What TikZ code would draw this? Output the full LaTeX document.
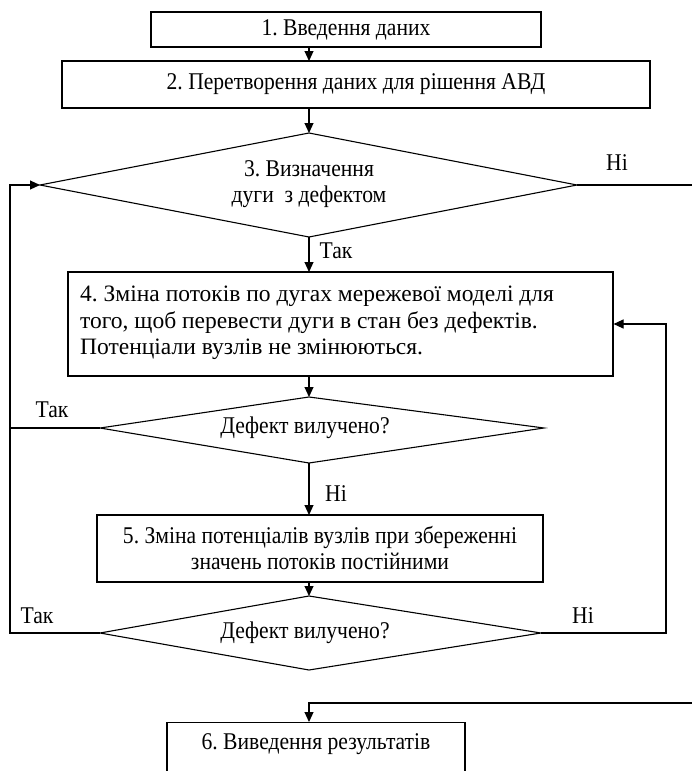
\documentclass[tikz,border=0pt]{standalone}
\usepackage{fontspec}
\setmainfont{Liberation Serif}[FakeStretch=0.9]
\newfontfamily\widefam{Liberation Serif}
\usetikzlibrary{arrows.meta}
\begin{document}
\frenchspacing
\begin{tikzpicture}[x=1pt,y=-1pt,
  every node/.style={font=\fontsize{24}{26}\selectfont},
  box/.style={draw,line width=1.1pt,inner sep=0pt},
  lbl/.style={inner sep=1pt},
  ln/.style={line width=1.1pt},
  arr/.style={line width=1.1pt,-{Triangle[length=10pt,width=9pt]}},
  dia/.style={draw,line width=1.1pt}]
\useasboundingbox (0,0) rectangle (692,771);
% boxes
\node[box,minimum width=390pt,minimum height=35pt] (b1) at (346,29.5) {1. Введення даних};
\node[box,minimum width=588pt,minimum height=47pt] (b2) at (356,84.5) {2. Перетворення даних для рішення АВД};
\node[box,minimum width=545pt,minimum height=104pt] (b4) at (340.5,324) {};
\node[anchor=west,align=left,inner sep=0pt,font=\widefam\fontsize{23.5}{26.5}\selectfont] (t4) at (80,323) {4. Зміна потоків по дугах мережевої моделі для\\того, щоб перевести дуги в стан без дефектів.\\Потенціали вузлів не змінюються.};
\node[box,minimum width=446pt,minimum height=67pt,align=center] (b5) at (320,548.5) {5. Зміна потенціалів вузлів при збереженні\\значень потоків постійними};
\node[box,minimum width=298pt,minimum height=70pt,anchor=north] (b6) at (316,722) {};
\node (t6) at (316,744) {6. Виведення результатів};
% diamond 3
\coordinate (d3t) at (309,133); \coordinate (d3r) at (577,185);
\coordinate (d3b) at (309,237); \coordinate (d3l) at (40,185);
\draw[dia] (d3t) -- (d3r) -- (d3b) -- (d3l) -- cycle;
\node[align=center] (d3) at (309,184) {3. Визначення\\дуги~~з дефектом};
% diamond 4
\coordinate (d4t) at (309,397); \coordinate (d4r) at (544,428);
\coordinate (d4b) at (309,463); \coordinate (d4l) at (100,428);
\draw[dia] (d4t) -- (d4r) -- (d4b) -- (d4l) -- cycle;
\node (d4) at (305,428) {Дефект вилучено?};
% diamond 5
\coordinate (d5t) at (309,596); \coordinate (d5r) at (541,633);
\coordinate (d5b) at (309,670); \coordinate (d5l) at (100,633);
\draw[dia] (d5t) -- (d5r) -- (d5b) -- (d5l) -- cycle;
\node (d5) at (305,633) {Дефект вилучено?};
% edge coordinates
\coordinate (e1) at (692,185);
\coordinate (e2) at (692,703);
\coordinate (L) at (10,633);
\coordinate (Lt) at (10,185);
\coordinate (R) at (666,633);
\coordinate (Rt) at (666,324);
\coordinate (k6) at (309,703);
% connectors
\draw[arr] (309,47) -- (309,61);
\draw[arr] (309,108) -- (d3t);
\draw[arr] (d3b) -- (309,272);
\draw[arr] (309,376) -- (d4t);
\draw[arr] (d4b) -- (309,515);
\draw[arr] (309,582) -- (d5t);
\draw[ln] (d3r) -- (e1);
\draw[ln] (d4l) -- (10,428);
\draw[arr] (d5l) -- (L) -- (Lt) -- (d3l);
\draw[arr] (d5r) -- (R) -- (Rt) -- (b4.east |- Rt);
\draw[arr] (e2) -- (k6) -- (b6.north -| k6);
% labels
\node[lbl] (n1) at (617,163) {Ні};
\node[lbl] (y1) at (336,251) {Так};
\node[lbl] (y2) at (52,410) {Так};
\node[lbl] (n2) at (336,494) {Ні};
\node[lbl] (y3) at (37,616) {Так};
\node[lbl] (n3) at (583,616) {Ні};
\end{tikzpicture}
\end{document}
